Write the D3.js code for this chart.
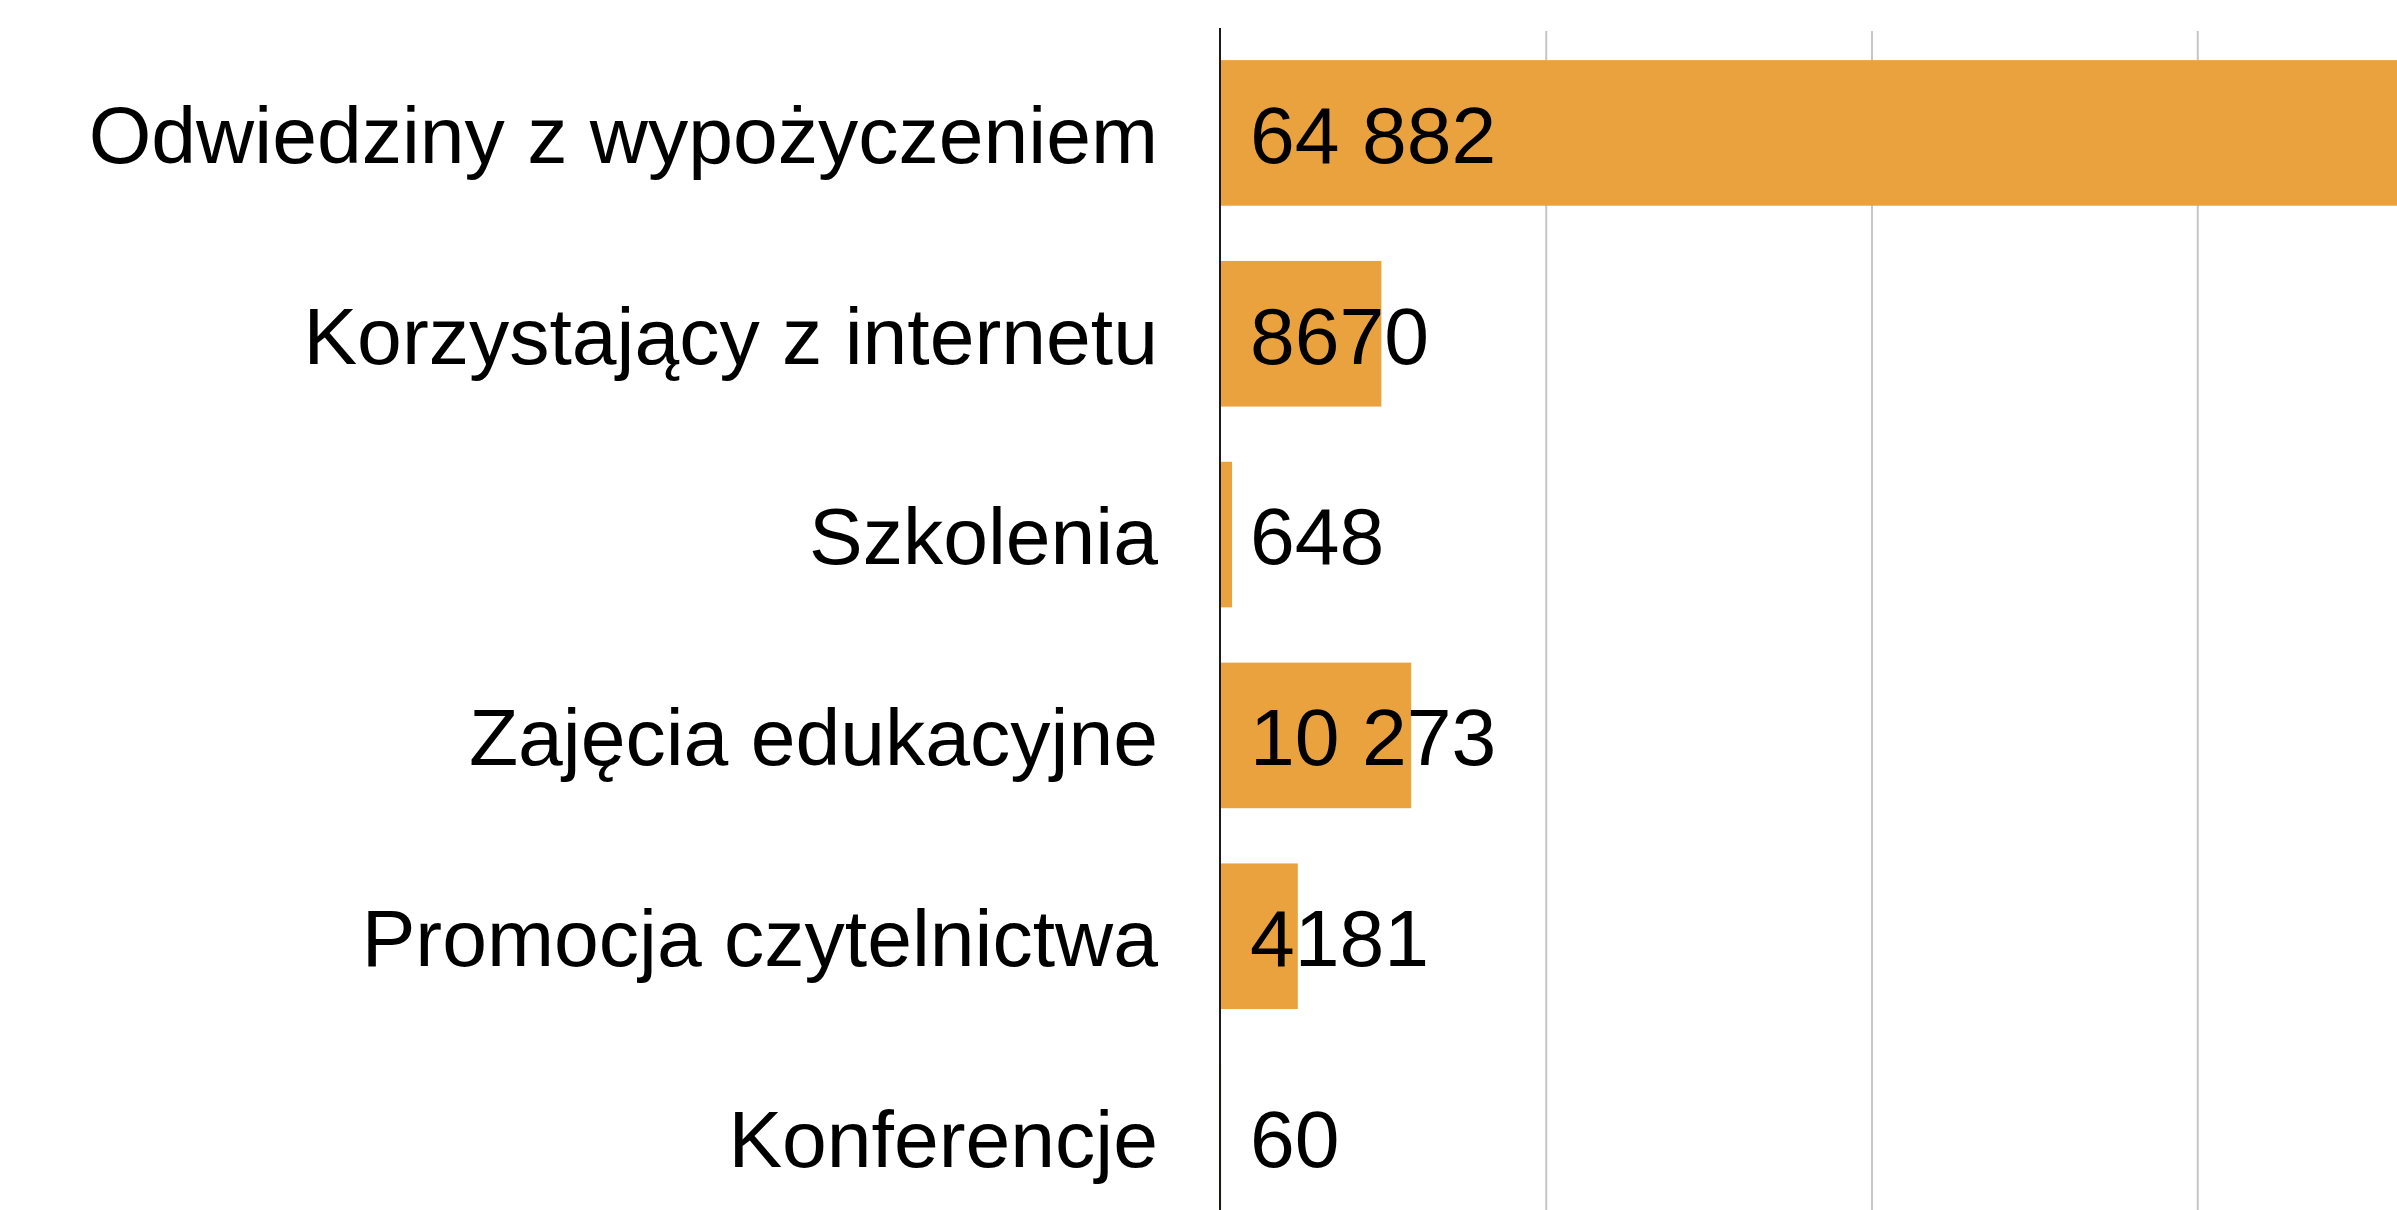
<!DOCTYPE html>
<html>
<head>
<meta charset="utf-8">
<script src="https://cdn.jsdelivr.net/npm/d3@7"></script>
<style>
	html, body { margin: 0; padding: 0; background: #fff; overflow: hidden; }
	svg { display: block; }
	.c-bars__label { font-family: "Liberation Sans", Arial, Helvetica, sans-serif; font-size: 80.5px; fill: #000; }
	.c-bars__grid line { stroke: #c6c6c6; stroke-width: 2px; }
	.c-bars__grid .domain { display: none; }
</style>
</head>
<body>
<svg id="chart"></svg>
<script>
var categories = [
	"Odwiedziny z wypożyczeniem",
	"Korzystający z internetu",
	"Szkolenia",
	"Zajęcia edukacyjne",
	"Promocja czytelnictwa",
	"Konferencje"
];
var values = [64882, 8670, 648, 10273, 4181, 60];
var gridValues = [17500, 35000, 52500];

var width = 2397,
	height = 1210;

var margin = {top: 28, left: 1220};

var svg = d3.select("#chart")
	.attr("width", width)
	.attr("height", height);

//Scales
var xScale = d3.scaleLinear()
	.domain([0, 70000])
	.range([margin.left, margin.left + 1303]);

var yScale = d3.scaleBand()
	.domain(categories)
	.range([32.5, 1237.5])
	.paddingInner(0.275)
	.paddingOuter(0.1375);

var fmt = d3.formatLocale({decimal: ",", thousands: " ", grouping: [3], currency: ["", " zł"]}).format(",d");
function label(v){
	//Polish style: no separator below 10 000
	return v >= 10000 ? fmt(v) : String(v);
}

//Gridlines
svg.append("g")
	.attr("class", "c-bars__grid")
	.attr("transform", "translate(0," + height + ")")
	.call(d3.axisBottom(xScale)
		.tickValues(gridValues)
		.tickSize(-(height - 31))
		.tickFormat(""));

//Bars
var rows = categories.map(function(c, i){ return {key: c, val: values[i]}; });

svg.append("g")
	.attr("class", "c-bars__bars")
	.selectAll("rect")
	.data(rows)
	.enter().append("rect")
	.attr("x", xScale(0))
	.attr("y", function(d){ return yScale(d.key); })
	.attr("width", function(d){ return xScale(d.val) - xScale(0); })
	.attr("height", yScale.bandwidth())
	.attr("fill", "#e9a23e");

//Zero axis line
svg.append("line")
	.attr("x1", xScale(0))
	.attr("x2", xScale(0))
	.attr("y1", margin.top)
	.attr("y2", height)
	.attr("stroke", "#1a1a1a")
	.attr("stroke-width", 2);

//Category labels
svg.append("g")
	.selectAll("text")
	.data(rows)
	.enter().append("text")
	.attr("class", "c-bars__label")
	.attr("text-anchor", "end")
	.attr("x", 1158)
	.attr("y", function(d){ return yScale(d.key) + yScale.bandwidth() / 2; })
	.attr("dy", "0.37em")
	.text(function(d){ return d.key; });

//Value labels
svg.append("g")
	.selectAll("text")
	.data(rows)
	.enter().append("text")
	.attr("class", "c-bars__label")
	.attr("x", xScale(0) + 30)
	.attr("y", function(d){ return yScale(d.key) + yScale.bandwidth() / 2; })
	.attr("dy", "0.37em")
	.text(function(d){ return label(d.val); });
</script>
</body>
</html>
